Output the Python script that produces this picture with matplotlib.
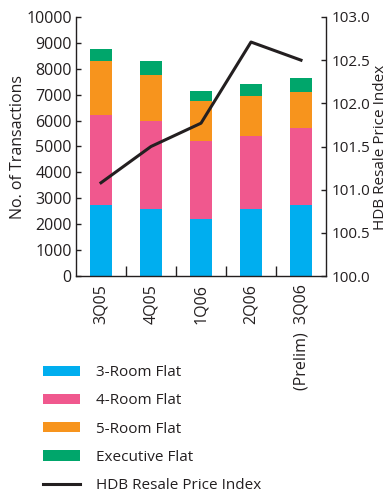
import matplotlib
matplotlib.use("Agg")
import matplotlib.pyplot as plt
from matplotlib.patches import Patch
from matplotlib.lines import Line2D
import numpy as np

plt.rcParams['font.family'] = ['Open Sans', 'DejaVu Sans']

categories = ["3Q05", "4Q05", "1Q06", "2Q06", "(Prelim)  3Q06"]
room3 = [2750, 2580, 2200, 2580, 2750]
room4 = [3480, 3420, 3010, 2830, 2970]
room5 = [2070, 1760, 1550, 1540, 1390]
executive = [450, 540, 380, 460, 540]
price_index = [101.08, 101.50, 101.77, 102.71, 102.50]

series_names = ["3-Room Flat", "4-Room Flat", "5-Room Flat", "Executive Flat"]
line_name = "HDB Resale Price Index"
colors = ["#00AEEF", "#F0588E", "#F7941D", "#00A66B"]
text_color = "#231F20"

W, H = 387, 493
fig = plt.figure(figsize=(W / 100, H / 100), dpi=100)
ax = fig.add_axes([76 / W, 1 - 276 / H, 250 / W, 259 / H])

x = np.arange(len(categories))
bottom = np.zeros(len(categories))
for vals, c in zip([room3, room4, room5, executive], colors):
    ax.bar(x, vals, width=0.44, bottom=bottom, color=c, linewidth=0, zorder=2)
    bottom += np.array(vals)

ax.set_xlim(-0.5, 4.5)
ax.set_ylim(0, 10000)
ax.set_yticks(np.arange(0, 10001, 1000))
ax.set_xticks(x)
ax.set_xticklabels(categories, rotation=90, fontsize=11.5, color=text_color)
ax.set_xticks(x[:-1] + 0.5, minor=True)
ax.tick_params(axis='x', which='major', length=0, pad=6)
ax.tick_params(axis='x', which='minor', direction='in', length=7.2, width=1.0, color=text_color)
ax.tick_params(axis='y', direction='in', length=3.6, width=1.0, pad=3, labelsize=11.5,
               labelcolor=text_color, color=text_color)
for s in ['left', 'bottom']:
    ax.spines[s].set_linewidth(1.0)
    ax.spines[s].set_color(text_color)
ax.spines['top'].set_visible(False)
ax.spines['right'].set_visible(False)

ax2 = ax.twinx()
ax2.plot(x, price_index, color=text_color, linewidth=2.2, zorder=3)
ax2.set_ylim(100.0, 103.0)
ax2.set_yticks(np.arange(100.0, 103.01, 0.5))
ax2.yaxis.set_major_formatter(matplotlib.ticker.FormatStrFormatter('%.1f'))
ax2.tick_params(axis='y', direction='in', length=3.6, width=1.0, pad=4, labelsize=11,
                labelcolor=text_color, color=text_color)
for s in ['top', 'left', 'bottom']:
    ax2.spines[s].set_visible(False)
ax2.spines['right'].set_linewidth(1.0)
ax2.spines['right'].set_color(text_color)

fig.text(18 / W, 1 - 147 / H, "No. of Transactions", rotation=90, ha='center', va='center',
         fontsize=11.5, color=text_color)
fig.text(380.5 / W, 1 - 147 / H, line_name, rotation=90, ha='center', va='center',
         fontsize=11, color=text_color)

handles = [Patch(facecolor=c, edgecolor='none') for c in colors]
handles.append(Line2D([0], [0], color=text_color, linewidth=2.2))
leg = fig.legend(handles, series_names + [line_name], loc='upper left',
                 bbox_to_anchor=(43 / W, 1 - 365 / H), frameon=False, fontsize=11,
                 handlelength=2.4, handleheight=0.65, handletextpad=1.05, labelspacing=0.87,
                 borderaxespad=0, borderpad=0)
for t in leg.get_texts():
    t.set_color(text_color)

fig.savefig("out.png", dpi=100)
